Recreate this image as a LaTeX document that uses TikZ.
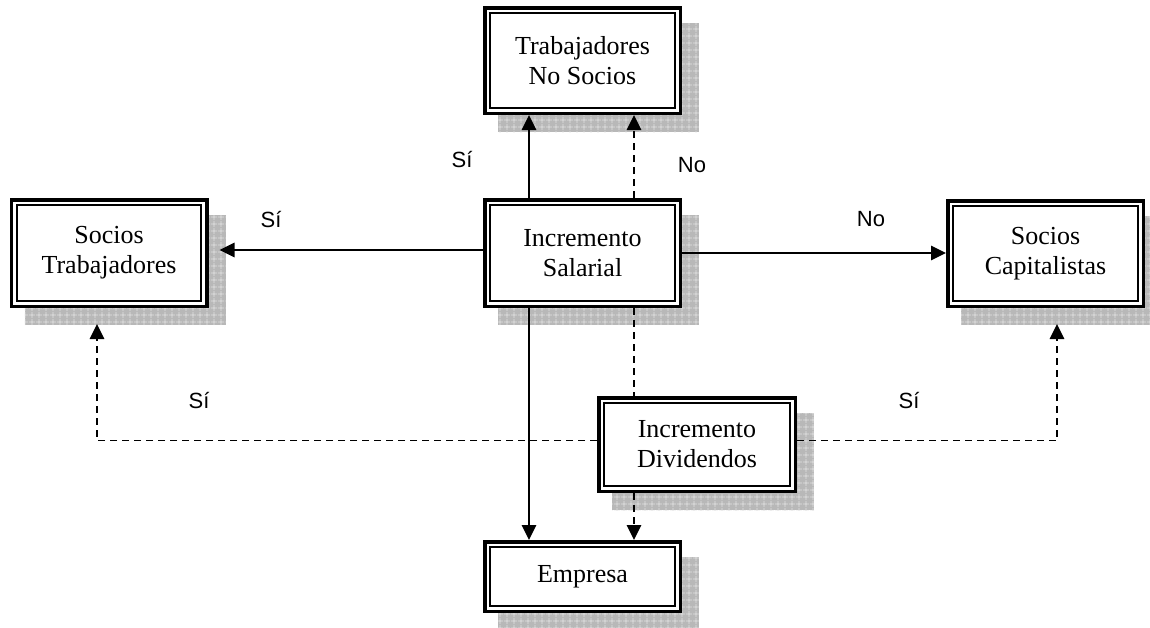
\documentclass[tikz,border=0pt]{standalone}
\usepackage{fontspec}
\setmainfont{Liberation Serif}
\newfontfamily\etiqfont{Liberation Sans}
\usepackage{tikz}
\usetikzlibrary{arrows.meta, positioning, backgrounds, patterns.meta}
\definecolor{SombraGris}{HTML}{B8B8B8}
\definecolor{RejillaGris}{HTML}{E2E2E2}

\tikzset{
  caja/.style={draw, fill=white, line width=3.5pt, inner sep=0pt, align=center,
    minimum width=195.5pt, font=\fontsize{26}{30}\selectfont,
    path picture={\draw[line width=2pt]
      ([shift={(5.3pt,-5.3pt)}]path picture bounding box.north west) rectangle
      ([shift={(-5.3pt,5.3pt)}]path picture bounding box.south east);}},
  sombra/.style={fill=SombraGris,
    postaction={pattern={Hatch[angle=0, distance=6.5pt, line width=0.7pt]}, pattern color=RejillaGris}},
  flecha/.style={line width=1.6pt, -{Triangle[length=15pt, width=14.5pt]}},
  linea/.style={line width=1.6pt},
  discont/.style={dash pattern=on 7pt off 5pt},
  etiq/.style={anchor=base, font=\etiqfont\fontsize{22}{26}\selectfont}
}

\begin{document}
\begin{tikzpicture}[x=1pt, y=-1pt]
        \useasboundingbox (0,0) rectangle (1150,627);

        % Boxes
        \node[caja, minimum height=105.5pt] (tns) at (582.5,60.5) {Trabajadores\\No Socios};
        \node[caja, minimum height=106.5pt] (st) at (109,253) {Socios\\Trabajadores};
        \node[caja, minimum height=106.5pt] (is) at (582.5,253) {Incremento\\Salarial};
        \node[caja, minimum height=105.5pt] (sc) at (1045.5,253.5) {Socios\\Capitalistas};
        \node[caja, minimum height=93.5pt, minimum width=196.5pt] (div) at (697,444.5) {Incremento\\Dividendos};
        \node[caja, minimum height=69.5pt] (emp) at (582.5,576.5) {Empresa};

        % Shadows
        \begin{scope}[on background layer]
            \foreach \n in {tns,st,is,sc,div,emp} {
                \fill[sombra] ([shift={(15,17)}]\n.north west) rectangle ([shift={(17,17)}]\n.south east);
            }
        \end{scope}

        % Salary arrows
        \draw[flecha] ([xshift=-53.5pt]is.north) -- ([xshift=-53.5pt]tns.south);
        \draw[flecha] ([xshift=-53.5pt]is.south) -- ([xshift=-53.5pt]emp.north);
        \draw[flecha] ([yshift=3pt]is.west) -- ([xshift=11pt,yshift=3pt]st.east);
        \draw[flecha] (is.east) -- (is.east -| sc.west);

        % Dividend arrows
        \coordinate (da) at ([xshift=51.5pt]is.north);
        \coordinate (db) at ([xshift=51.5pt]is.south);
        \coordinate (dc) at ([xshift=51.5pt]emp.north);
        \draw[flecha, discont] (da) -- (da |- tns.south);
        \draw[linea, discont] (db) -- (db |- div.north);
        \draw[flecha, discont] (dc |- div.south) -- (dc);
        \draw[flecha, discont] ([yshift=4pt]div.west) -| ([xshift=-12pt,yshift=-16pt]st.south);
        \draw[flecha, discont] ([yshift=4pt]div.east) -| ([xshift=11.5pt,yshift=-16pt]sc.south);

        % Labels
        \node[etiq] (l1) at (462,167) {Sí};
        \node[etiq] (l2) at (692,172) {No};
        \node[etiq] (l3) at (271,227) {Sí};
        \node[etiq] (l4) at (871,226) {No};
        \node[etiq] (l5) at (199,408) {Sí};
        \node[etiq] (l6) at (909,408) {Sí};

    \end{tikzpicture}
\end{document}
